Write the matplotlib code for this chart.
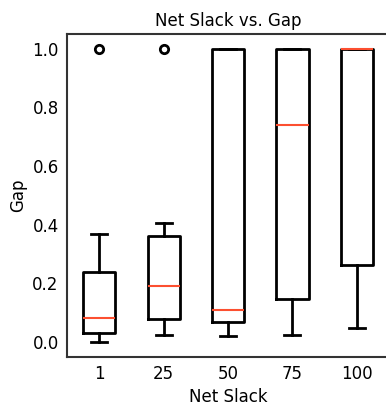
import matplotlib
matplotlib.use("Agg")
import matplotlib.pyplot as plt

categories = ["1", "25", "50", "75", "100"]
whislo = [0.0, 0.024, 0.021, 0.023, 0.046]
q1 = [0.031, 0.079, 0.068, 0.147, 0.262]
med = [0.083, 0.19, 0.11, 0.738, 1.0]
q3 = [0.239, 0.36, 1.0, 1.0, 1.0]
whishi = [0.368, 0.406, 1.0, 1.0, 1.0]
fliers = [[1.0], [1.0], [], [], []]

stats = []
for i, c in enumerate(categories):
    stats.append(dict(label=c, whislo=whislo[i], q1=q1[i], med=med[i],
                      q3=q3[i], whishi=whishi[i], fliers=fliers[i]))

fig = plt.figure(figsize=(3.86, 4.05), dpi=100)
ax = fig.add_axes([67/386, 48.5/405, (389-67)/386, (356.5-34)/405])

lw = 2.0
ax.bxp(stats,
       boxprops=dict(color="black", linewidth=lw),
       whiskerprops=dict(color="black", linewidth=lw),
       capprops=dict(color="black", linewidth=lw),
       medianprops=dict(color="#fc4f30", linewidth=1.5),
       flierprops=dict(marker="o", markerfacecolor="none",
                       markeredgecolor="black", markersize=6,
                       markeredgewidth=2.0))

ax.set_xlim(0.5, 5.5)
ax.set_ylim(-0.05, 1.05)
ax.set_yticks([0.0, 0.2, 0.4, 0.6, 0.8, 1.0])
ax.set_yticklabels(["0.0", "0.2", "0.4", "0.6", "0.8", "1.0"])
ax.tick_params(length=0, labelsize=12, pad=6)
for s in ["left", "bottom", "top"]:
    ax.spines[s].set_color("#333333")
    ax.spines[s].set_linewidth(1.5)
ax.spines["right"].set_visible(False)
ax.set_title("Net Slack vs. Gap", fontsize=12, pad=6)
ax.set_xlabel("Net Slack", fontsize=12, labelpad=4)
ax.set_ylabel("Gap", fontsize=12, labelpad=4)

fig.savefig("out.png", dpi=100)
